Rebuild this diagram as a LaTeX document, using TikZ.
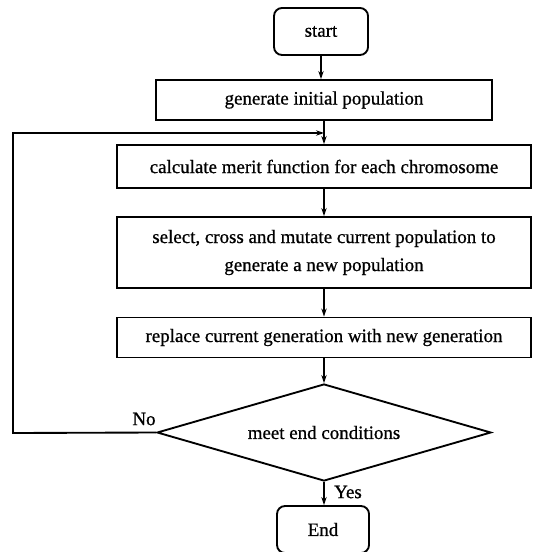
\documentclass[tikz,border=0pt]{standalone}
\usepackage{fontspec}
\setmainfont{Liberation Serif}[FakeBold=0.8,AutoFakeBold=0.8]
\usetikzlibrary{shapes.geometric,arrows.meta}
\begin{document}
\begin{tikzpicture}[x=0.75pt,y=-0.75pt,
  line width=1.4pt,
  txt/.style={font=\fontsize{14.2}{21}\selectfont\bfseries},
  box/.style={draw,rectangle,inner sep=0pt,align=center,txt},
  term/.style={box,rounded corners=6pt},
  dec/.style={draw,diamond,inner sep=0pt,aspect=3.4,txt},
  arr/.style={-{Stealth[length=6pt,width=4pt]}},
]
\useasboundingbox (0,0) rectangle (536,552);
\node[term,minimum width=70.5pt,minimum height=35.25pt] (start) at (321,31.5) {start};
\node[box,minimum width=252pt,minimum height=30pt] (gen) at (324,100) {generate initial population};
\node[box,minimum width=310.5pt,minimum height=32.25pt] (calc) at (324,166.5) {calculate merit function for each chromosome};
\node[box,minimum width=310.5pt,minimum height=53.25pt] (sel) at (324,252.5) {select, cross and mutate current population to\\generate a new population};
\node[box,minimum width=310.5pt,minimum height=30pt] (rep) at (324,337.5) {replace current generation with new generation};
\node[dec,minimum width=250.5pt,minimum height=72.75pt] (dia) at (324,432.5) {meet end conditions};
\node[term,minimum width=69pt,minimum height=35.25pt] (end) at (323,529.5) {End};
\node[txt,anchor=center] (no) at (144,419) {No};
\node[txt,anchor=center] (yes) at (348,492) {Yes};
\coordinate (join) at (324,133);
\coordinate (lcorner) at (13,433);
\coordinate (tcorner) at (13,133);
\draw[arr] (start.south) -- (start.south |- gen.north);
\draw[arr] (gen) -- (calc);
\draw[arr] (calc) -- (sel);
\draw[arr] (sel) -- (rep);
\draw[arr] (rep) -- (dia);
\draw[arr] (dia.south) -- (dia.south |- end.north);
\draw[arr] (dia.west) -- (lcorner) -- (tcorner) -- (join);
\end{tikzpicture}
\end{document}
